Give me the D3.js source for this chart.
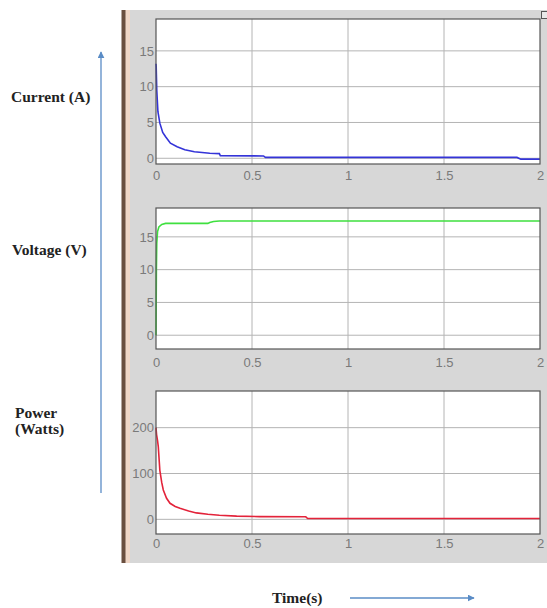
<!DOCTYPE html>
<html>
<head>
<meta charset="utf-8">
<script src="https://cdn.jsdelivr.net/npm/d3@7"></script>
<style>
  body { margin: 0; background: #fff; }
  svg { display: block; }
</style>
</head>
<body>
<div id="chart"></div>
<script>
// values
var xTicks = [0, 0.5, 1, 1.5, 2];
var xTickLabels = ["0", "0.5", "1", "1.5", "2"];

var currentT = [0, 0.001, 0.004, 0.01, 0.02, 0.035, 0.05, 0.075, 0.11, 0.15, 0.2, 0.28, 0.33, 0.335, 0.56, 0.57, 1.88, 1.9, 2];
var currentA = [13.2, 12.8, 9.5, 6.5, 4.9, 3.6, 3.0, 2.1, 1.6, 1.2, 0.92, 0.7, 0.65, 0.37, 0.32, 0.12, 0.12, -0.12, -0.12];
var currentTicks = [0, 5, 10, 15];

var voltageT = [0, 0.002, 0.004, 0.008, 0.015, 0.03, 0.05, 0.27, 0.28, 0.3, 0.33, 2];
var voltageV = [0, 10, 14, 15.8, 16.5, 16.9, 17.05, 17.05, 17.2, 17.35, 17.42, 17.42];
var voltageTicks = [0, 5, 10, 15];

var powerT = [0, 0.003, 0.008, 0.012, 0.02, 0.03, 0.038, 0.055, 0.073, 0.1, 0.125, 0.17, 0.21, 0.27, 0.33, 0.42, 0.54, 0.78, 0.79, 2];
var powerW = [200, 185, 172, 158, 107, 80, 64, 46, 35, 28, 24, 18, 14, 11, 9, 7, 6, 5.5, 1.8, 1.8];
var powerTicks = [0, 100, 200];

var panels = [
  { t: currentT, v: currentA, ticks: currentTicks, domain: [-0.8, 19.45], top: 19, bottom: 164, color: "#3434d8", labOff: 13 },
  { t: voltageT, v: voltageV, ticks: voltageTicks, domain: [-2.1, 19.4], top: 208, bottom: 349, color: "#3fe03f", labOff: 15 },
  { t: powerT, v: powerW, ticks: powerTicks, domain: [-32, 280], top: 391, bottom: 534, color: "#e3233a", labOff: 11 }
];

var svg = d3.select("#chart")
  .append("svg")
  .attr("width", 547)
  .attr("height", 608);

// scope window background
svg.append("rect").attr("x", 124).attr("y", 10).attr("width", 423).attr("height", 553).attr("fill", "#d7d7d7");
svg.append("rect").attr("x", 125).attr("y", 10).attr("width", 5).attr("height", 553).attr("fill", "#efd6c6");
svg.append("rect").attr("x", 121.5).attr("y", 10).attr("width", 4).attr("height", 553).attr("fill", "#6a4f3f");
svg.append("rect").attr("x", 541.5).attr("y", 11.5).attr("width", 6).attr("height", 7)
  .attr("fill", "#e8e8e8").attr("stroke", "#555");

var xScale = d3.scaleLinear().domain([0, 2]).range([156, 540]);

panels.forEach(function(p) {
  var yScale = d3.scaleLinear().domain(p.domain).range([p.bottom, p.top]);
  var g = svg.append("g");

  g.append("rect")
    .attr("x", 156).attr("y", p.top)
    .attr("width", 384).attr("height", p.bottom - p.top)
    .attr("fill", "#fff");

  // grid
  g.append("g")
    .selectAll("line.vg")
    .data(xTicks.slice(1, -1))
    .enter().append("line")
    .attr("x1", d => xScale(d)).attr("x2", d => xScale(d))
    .attr("y1", p.top).attr("y2", p.bottom)
    .attr("stroke", "#b4b4b4");
  g.append("g")
    .selectAll("line.hg")
    .data(p.ticks)
    .enter().append("line")
    .attr("x1", 156).attr("x2", 540)
    .attr("y1", d => yScale(d)).attr("y2", d => yScale(d))
    .attr("stroke", "#b4b4b4");

  var xAxis = d3.axisBottom(xScale)
    .tickValues(xTicks)
    .tickFormat((d, i) => xTickLabels[i])
    .tickSize(0)
    .tickPadding(p.labOff - 6);
  var yAxis = d3.axisLeft(yScale)
    .tickValues(p.ticks)
    .tickSize(0)
    .tickPadding(2);

  g.append("g")
    .attr("transform", `translate(0,${p.bottom})`)
    .call(xAxis)
    .call(a => a.select(".domain").remove());
  g.append("g")
    .attr("transform", "translate(156,0)")
    .call(yAxis)
    .call(a => a.select(".domain").remove());

  g.selectAll(".tick text")
    .style("font-family", "Arial, 'Liberation Sans', sans-serif")
    .style("font-size", "13px")
    .attr("fill", "#7a7a7a");

  var line = d3.line()
    .x(d => xScale(d[0]))
    .y(d => yScale(d[1]));

  g.append("path")
    .datum(d3.zip(p.t, p.v))
    .attr("d", line)
    .attr("fill", "none")
    .attr("stroke", p.color)
    .attr("stroke-width", 1.6);

  g.append("rect")
    .attr("x", 156).attr("y", p.top)
    .attr("width", 384).attr("height", p.bottom - p.top)
    .attr("fill", "none")
    .attr("stroke", "#555")
    .attr("stroke-width", 1.2);
});

// outside labels
var labelFont = "'Liberation Serif', 'Times New Roman', serif";
var labels = [
  { text: "Current (A)", x: 11, y: 102 },
  { text: "Voltage (V)", x: 12, y: 255 },
  { text: "Power", x: 15, y: 418 },
  { text: "(Watts)", x: 15, y: 434 },
  { text: "Time(s)", x: 272, y: 603 }
];
svg.selectAll("text.lab")
  .data(labels)
  .enter().append("text")
  .attr("class", "lab")
  .attr("x", d => d.x).attr("y", d => d.y)
  .style("font-family", labelFont)
  .style("font-weight", "bold")
  .style("font-size", "15.5px")
  .attr("fill", "#222")
  .text(d => d.text);

// arrows
var defs = svg.append("defs");
defs.append("marker")
  .attr("id", "arr")
  .attr("viewBox", "0 0 10 10")
  .attr("refX", 9).attr("refY", 5)
  .attr("markerWidth", 7).attr("markerHeight", 7)
  .attr("markerUnits", "userSpaceOnUse")
  .attr("orient", "auto")
  .append("path")
  .attr("d", "M0,0 L10,5 L0,10 z")
  .attr("fill", "#5a8cc6");

svg.append("line")
  .attr("x1", 101).attr("y1", 493).attr("x2", 101).attr("y2", 52)
  .attr("stroke", "#5a8cc6").attr("stroke-width", 1.3)
  .attr("marker-end", "url(#arr)");
svg.append("line")
  .attr("x1", 350).attr("y1", 598).attr("x2", 474).attr("y2", 598)
  .attr("stroke", "#5a8cc6").attr("stroke-width", 1.3)
  .attr("marker-end", "url(#arr)");
</script>
</body>
</html>
